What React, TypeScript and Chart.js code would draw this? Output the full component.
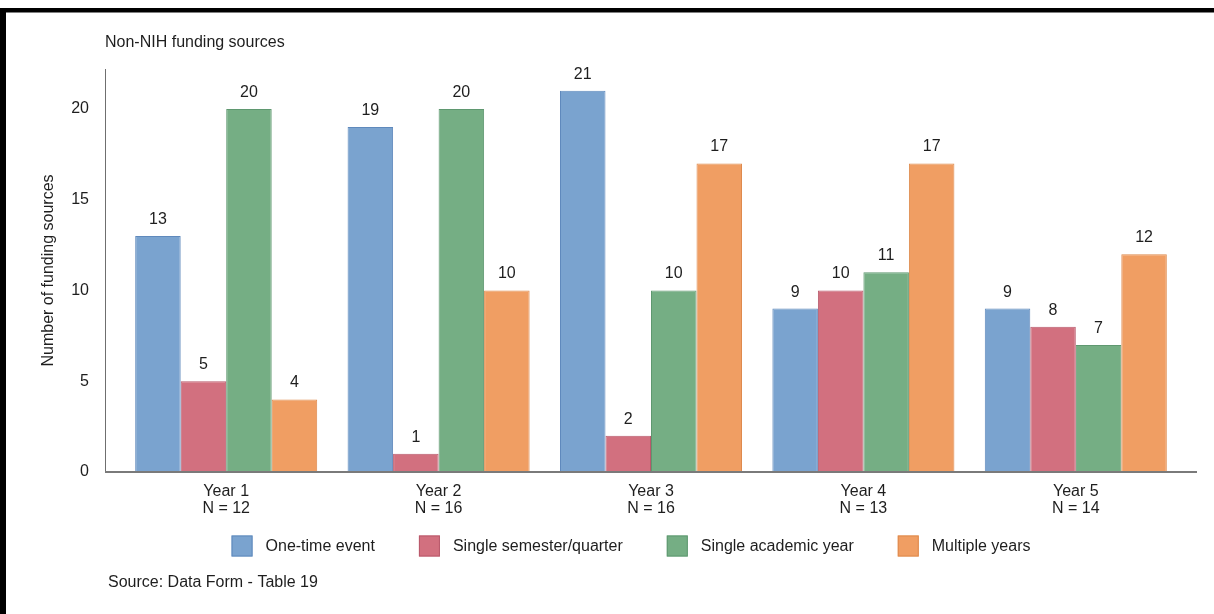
import React, { useEffect, useRef } from "react";
import { Chart, registerables } from "chart.js";

Chart.register(...registerables);

// Categories and sample sizes
const years = ["Year 1", "Year 2", "Year 3", "Year 4", "Year 5"];
const sampleSizes = [12, 16, 16, 13, 14];

// Number of funding sources per duration type
const oneTimeEvent = [13, 19, 21, 9, 9];
const singleSemester = [5, 1, 2, 10, 8];
const singleAcademicYear = [20, 20, 10, 11, 7];
const multipleYears = [4, 10, 17, 17, 12];

const seriesNames = [
  "One-time event",
  "Single semester/quarter",
  "Single academic year",
  "Multiple years",
];

const yTicks = [0, 5, 10, 15, 20];

const chartTitle = "Non-NIH funding sources";
const yAxisTitle = "Number of funding sources";
const sourceNote = "Source: Data Form - Table 19";

const FONT = "'Liberation Sans', Arial, Helvetica, sans-serif";
const TEXT = "#1e1e1e";

const fills = ["#7aa3cf", "#d2707f", "#75ae84", "#f09e63"];
const borders = ["#5f89bc", "#b8596b", "#5f9870", "#de8a4d"];

// Page frame, header/footer text, extended axis lines, value labels, legend
const decorPlugin = {
  id: "decor",
  beforeDraw(chart: any) {
    const { ctx, width, height } = chart;
    ctx.save();
    ctx.fillStyle = "#ffffff";
    ctx.fillRect(0, 0, width, height);
    ctx.fillStyle = "#000000";
    ctx.fillRect(0, 8, width, 4.5);
    ctx.fillRect(0, 8, 6, height - 8);
    ctx.restore();
  },
  afterDraw(chart: any) {
    const { ctx, chartArea } = chart;
    const yScale = chart.scales.y;
    ctx.save();

    // axis lines, extending past the category band
    const zeroY = yScale.getPixelForValue(0);
    ctx.strokeStyle = "#6f6f6f";
    ctx.lineWidth = 1;
    ctx.beginPath();
    ctx.moveTo(chartArea.left - 15 + 0.5, chartArea.top);
    ctx.lineTo(chartArea.left - 15 + 0.5, zeroY);
    ctx.stroke();
    ctx.strokeStyle = "#7a7a7a";
    ctx.lineWidth = 2;
    ctx.beginPath();
    ctx.moveTo(chartArea.left - 15, zeroY);
    ctx.lineTo(chartArea.right + 15, zeroY);
    ctx.stroke();

    // value labels above bars
    ctx.font = `16px ${FONT}`;
    ctx.fillStyle = TEXT;
    ctx.textAlign = "center";
    ctx.textBaseline = "alphabetic";
    chart.data.datasets.forEach((ds: any, di: number) => {
      const meta = chart.getDatasetMeta(di);
      meta.data.forEach((bar: any, i: number) => {
        ctx.fillText(String(ds.data[i]), bar.x, bar.y - 12);
      });
    });

    // header and source note
    ctx.textAlign = "left";
    ctx.textBaseline = "middle";
    ctx.fillText(chartTitle, 105, 43);
    ctx.fillText(sourceNote, 108, 583);

    // legend
    const box = 21;
    const textGap = 13;
    const itemGap = 44;
    const widths = chart.data.datasets.map(
      (ds: any) => ctx.measureText(ds.label).width
    );
    const total =
      widths.reduce((s: number, w: number) => s + box + textGap + w, 0) +
      itemGap * (widths.length - 1);
    let x = 631 - total / 2;
    const cy = 546;
    chart.data.datasets.forEach((ds: any, di: number) => {
      ctx.fillStyle = ds.backgroundColor;
      ctx.fillRect(x, cy - box / 2, box, box);
      ctx.strokeStyle = ds.borderColor;
      ctx.lineWidth = 1;
      ctx.strokeRect(x + 0.5, cy - box / 2 + 0.5, box - 1, box - 1);
      ctx.fillStyle = TEXT;
      ctx.fillText(ds.label, x + box + textGap, cy + 1);
      x += box + textGap + widths[di] + itemGap;
    });

    ctx.restore();
  },
};

export default function App() {
  const canvasRef = useRef<HTMLCanvasElement | null>(null);

  useEffect(() => {
    if (!canvasRef.current) return;
    const series = [oneTimeEvent, singleSemester, singleAcademicYear, multipleYears];
    const chart = new Chart(canvasRef.current, {
      type: "bar",
      data: {
        labels: years.map((y, i) => [y, `N = ${sampleSizes[i]}`]),
        datasets: series.map((data, i) => ({
          label: seriesNames[i],
          data,
          backgroundColor: fills[i],
          borderColor: borders[i],
          borderWidth: 1,
          categoryPercentage: 0.857,
          barPercentage: 1,
        })),
      },
      options: {
        animation: false,
        responsive: false,
        maintainAspectRatio: false,
        layout: { padding: { top: 69, right: 32, bottom: 0, left: 0 } },
        plugins: {
          legend: { display: false },
          title: { display: false },
          tooltip: { enabled: false },
        },
        scales: {
          x: {
            grid: { display: false, drawTicks: false },
            border: { display: false },
            afterFit: (axis: any) => {
              axis.height = 142;
            },
            ticks: {
              padding: 11.5,
              color: TEXT,
              font: { family: FONT, size: 16, lineHeight: 1.05 },
              maxRotation: 0,
            },
          },
          y: {
            min: 0,
            max: 22.2,
            grid: { display: false, drawTicks: false },
            border: { display: false },
            afterBuildTicks: (axis: any) => {
              axis.ticks = yTicks.map((v) => ({ value: v }));
            },
            afterFit: (axis: any) => {
              axis.width = 120;
            },
            ticks: {
              padding: 31,
              color: TEXT,
              font: { family: FONT, size: 16 },
            },
            title: {
              display: true,
              text: yAxisTitle,
              color: TEXT,
              font: { family: FONT, size: 16 },
              padding: { top: 39, bottom: 0 },
            },
          },
        },
      },
      plugins: [decorPlugin],
    });
    return () => chart.destroy();
  }, []);

  return (
    <div style={{ position: "fixed", left: 0, top: 0, width: 1214, height: 614, background: "#fff" }}>
      <canvas ref={canvasRef} width={1214} height={614} style={{ display: "block" }} />
    </div>
  );
}
